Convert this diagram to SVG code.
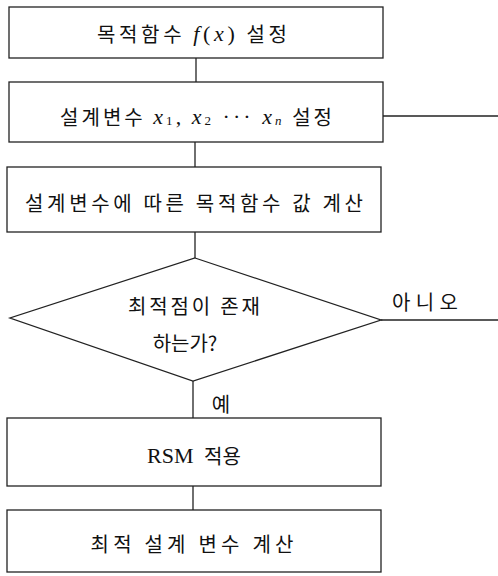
<svg xmlns="http://www.w3.org/2000/svg" width="498" height="576" viewBox="0 0 498 576">
<style>
.box{fill:#fff;stroke:#222;stroke-width:1.3}
.ln{fill:none;stroke:#222;stroke-width:1.3}
.t{font-family:"Noto Sans CJK KR","Noto Sans",sans-serif;font-size:20px;fill:#111;text-anchor:middle;dominant-baseline:central}
.m{font-family:"Liberation Serif",serif;font-style:italic;font-size:22px}
.r{font-family:"Liberation Serif",serif;font-size:22px}
.s{font-size:13px}
</style>
<rect width="498" height="576" fill="#fff"/>
<g id="connectors">
<line class="ln" x1="196" y1="58" x2="196" y2="82"/>
<line class="ln" x1="383" y1="116" x2="498" y2="116"/>
<line class="ln" x1="195" y1="142" x2="195" y2="167"/>
<line class="ln" x1="195" y1="232" x2="195" y2="258"/>
<line class="ln" x1="381" y1="320" x2="498" y2="320"/>
<line class="ln" x1="193" y1="381" x2="193" y2="418"/>
<line class="ln" x1="193" y1="486" x2="193" y2="510"/>
<text class="t" x="425" y="301" textLength="66" lengthAdjust="spacing">아니오</text>
<text class="t" x="221" y="403">예</text>
</g>
<g id="n1">
<rect class="box" x="9" y="7" width="374" height="51"/>
<text class="t" x="192" y="33" textLength="190" lengthAdjust="spacing">목적함수 <tspan class="m">f</tspan><tspan class="r">(</tspan><tspan class="m">x</tspan><tspan class="r">)</tspan> 설정</text>
</g>
<g id="n2">
<rect class="box" x="9" y="82" width="374" height="60"/>
<text class="t" x="196" y="116" textLength="272" lengthAdjust="spacing">설계변수 <tspan class="m">x</tspan><tspan class="r s" dy="4">1</tspan><tspan class="r" dy="-4">,</tspan> <tspan class="m">x</tspan><tspan class="r s" dy="4">2</tspan><tspan class="r" dy="-4"> ··· </tspan><tspan class="m">x</tspan><tspan class="m s" dy="4">n</tspan><tspan dy="-4"> 설정</tspan></text>
</g>
<g id="n3">
<rect class="box" x="7" y="167" width="374" height="65"/>
<text class="t" x="194" y="202" textLength="338" lengthAdjust="spacing">설계변수에 따른 목적함수 값 계산</text>
</g>
<g id="n4">
<polygon class="box" points="195,258 381,320 193,381 10,318"/>
<text class="t" x="194" y="305" textLength="132" lengthAdjust="spacing">최적점이 존재</text>
<text class="t" x="185" y="342">하는가?</text>
</g>
<g id="n5">
<rect class="box" x="7" y="418" width="374" height="68"/>
<text class="t" x="194" y="455" word-spacing="6"><tspan class="r">RSM</tspan> 적용</text>
</g>
<g id="n6">
<rect class="box" x="7" y="510" width="374" height="62"/>
<text class="t" x="192" y="543" textLength="203" lengthAdjust="spacing">최적 설계 변수 계산</text>
</g>
</svg>
